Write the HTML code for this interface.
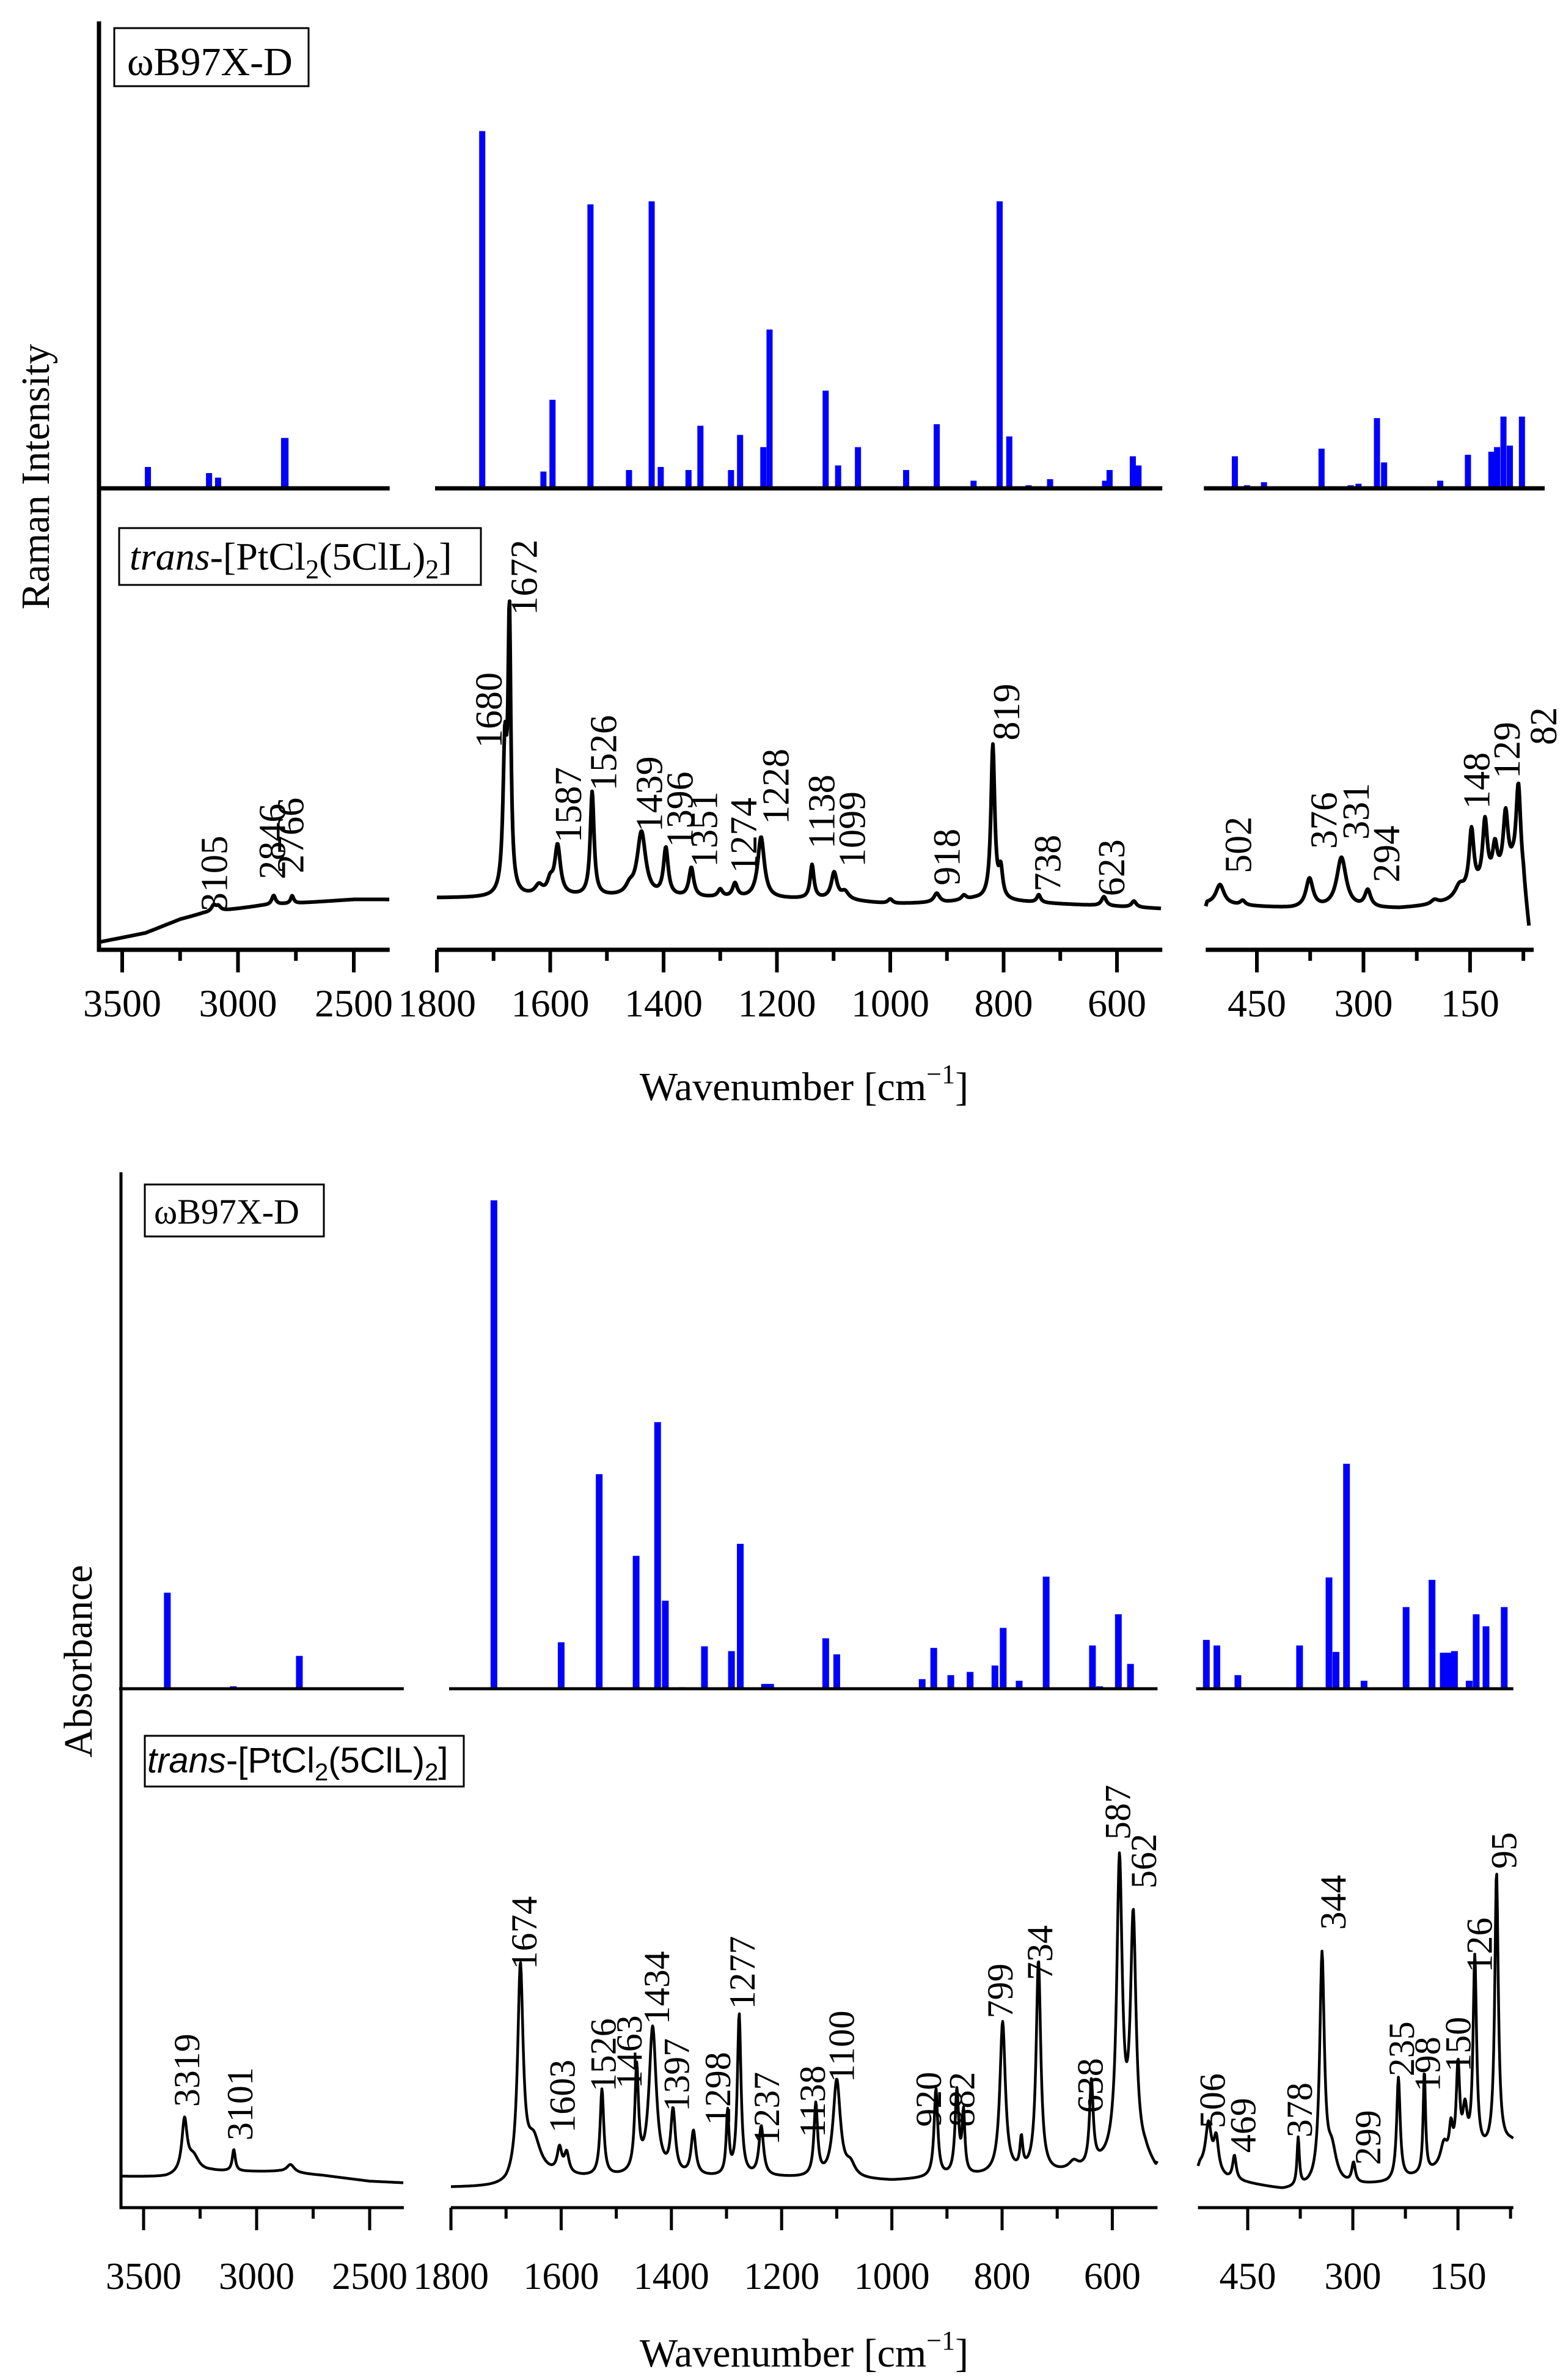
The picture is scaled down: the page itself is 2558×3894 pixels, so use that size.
<!DOCTYPE html>
<html><head><meta charset="utf-8"><style>
html,body{margin:0;padding:0;background:#fff}
svg{display:block}
text{font-family:"Liberation Serif",serif;fill:#000}
</style></head><body>
<svg id="fig" xmlns="http://www.w3.org/2000/svg" width="2558" height="3894" viewBox="0 0 2558 3894">
<rect x="0" y="0" width="2558" height="3894" fill="#fff"/>
<g id="top"></g>
<g id="bot"></g>
<rect x="187" y="46" width="318" height="95" fill="none" stroke="#000" stroke-width="3"/>
<text x="208" y="123" font-size="66">ωB97X-D</text>
<rect x="195" y="864" width="592" height="93" fill="none" stroke="#000" stroke-width="3"/>
<text x="212" y="932" font-size="64"><tspan font-style="italic">trans</tspan>-[PtCl<tspan font-size="44" dy="14">2</tspan><tspan dy="-14">(5ClL)</tspan><tspan font-size="44" dy="14">2</tspan><tspan dy="-14">]</tspan></text>
<text transform="translate(80,780) rotate(-90)" text-anchor="middle" font-size="66">Raman Intensity</text>
<text x="1316" y="1800" text-anchor="middle" font-size="66">Wavenumber [cm<tspan font-size="44" dy="-28">−1</tspan><tspan dy="28">]</tspan></text>

<rect x="237" y="1938" width="293" height="85" fill="none" stroke="#000" stroke-width="3"/>
<text x="252" y="2002" font-size="58">ωB97X-D</text>
<rect x="237" y="2840" width="522" height="83" fill="none" stroke="#000" stroke-width="3"/>
<text x="241" y="2900" font-size="58" style="font-family:'Liberation Sans',sans-serif"><tspan font-style="italic">trans</tspan>-[PtCl<tspan font-size="40" dy="13">2</tspan><tspan dy="-13">(5ClL)</tspan><tspan font-size="40" dy="13">2</tspan><tspan dy="-13">]</tspan></text>
<text transform="translate(150,2718) rotate(-90)" text-anchor="middle" font-size="66">Absorbance</text>
<text x="1316" y="3872" text-anchor="middle" font-size="66">Wavenumber [cm<tspan font-size="44" dy="-28">−1</tspan><tspan dy="28">]</tspan></text>
</svg>
<script>
// ===== TOP (Raman) data =====
const topCalcFreq = [3389,3125,3086,2801,2795, 1720,1612,1596,1529,1461,1421,1405,1356,1335,1281,1265,1224,1213,1114,1092,1057,972,918,853,807,790,756,718,621,613,572,562, 481,464,440,359,318,307,281,271,192,153,120,112,103,94,77];
const topCalcInt  = [14,10,7,33,33, 234,11,58,186,12,188,14,12,41,12,35,27,104,64,15,27,12,42,5,188,34,2,6,5,12,21,15, 21,2,4,26,2,3,46,17,5,22,24,27,47,28,47];
const topBaseW = [3600,3400,3250,3150,3050,2900,2700,2500,2340, 1800,1700,1600,1100,1000,900,850,700,520, 522,400,250,200,170,150,120,90,75,67];
const topBaseI = [5,11,20,24,26,29,31,33,31, 34,34,35,33,30,31,33,30,30, 27,27,27,29,32,36,42,50,40,10];
const topPeakPos = [3105,3085,2846,2766, 1680,1672,1620,1600,1587,1526,1460,1439,1396,1351,1300,1274,1228,1138,1099,1080,1000,918,870,819,805,738,623,570, 502,470,376,331,294,200,165,148,129,115,100,82];
const topPeakH   = [4,3,6,5, 92,178,6,8,32,68,5,42,31,19,5,9,40,22,17,5,3,6,3,101,18,5,6,4, 13,3,19,33,11,3,8,40,42,22,40,62];
const topPeakG   = [12,12,10,8, 4,3,8,6,6,4,8,9,5,5,5,5,7,4,6,8,5,6,5,4,4,4,5,5, 7,4,6,8,5,6,8,4,4,4,4,4];
const topLabels  = ["3105","2846","2766","1680","1672","1587","1526","1439","1396","1351","1274","1228","1138","1099","918","819","738","623","502","376","331","294","148","129","82"];
const topLabelCx = [140,178,190,320,343,372,395,425,445,461,487,508,538,558,620,659,686,728,811,867,888,908,967,987,1011];
const topLabelBy = [597,576,572,490,403,552,518,545,555,568,572,540,556,568,580,485,584,587,572,556,550,578,530,510,488];

// ===== BOTTOM (IR) data =====
const botCalcFreq = [3395,3103,2811, 1722,1600,1531,1464,1425,1411,1380,1340,1291,1275,1231,1220,1120,1100,1060,945,924,893,858,813,798,769,720,636,623,589,567, 509,494,464,376,334,324,309,284,224,187,171,164,155,134,124,110,84];
const botCalcInt  = [120,3,41, 610,58,268,166,333,110,2,53,47,181,6,6,63,43,1,12,51,17,21,29,76,10,140,54,3,93,31, 61,54,17,54,139,46,281,10,102,136,45,45,47,10,93,78,102];
const botBaseW = [3600,3400,3200,3000,2900,2700,2500,2349, 1800,1700,1650,1560,1200,1000,900,700,650,600,540,518, 521,480,400,300,250,200,160,130,100,75,71];
const botBaseI = [39,38,45,45,45,40,33,31, 25,25,40,37,37,33,37,42,45,55,60,50, 45,35,22,27,30,40,50,60,70,80,80];
const botPeakPos = [3319,3280,3101,2850, 1674,1650,1603,1590,1526,1463,1434,1397,1360,1298,1277,1237,1138,1100,1075,920,882,870,799,765,734,670,638,587,562, 506,495,469,378,344,330,299,235,198,170,160,150,140,126,95];
const botPeakH   = [65,20,27,10, 262,40,30,25,108,130,185,78,55,78,202,62,90,122,15,110,105,75,190,38,265,10,105,370,295, 58,42,30,60,285,40,25,128,128,28,40,115,55,245,345];
const botPeakG   = [14,30,8,20, 6,15,5,5,4,4,8,5,5,3,4,5,4,8,10,4,4,3,6,3,5,10,4,6,6, 5,4,3,2,4,8,3,3,2,6,3,3,4,3,3];
const botLabels  = ["3319","3101","1674","1603","1526","1463","1434","1397","1298","1277","1237","1138","1100","920","882","799","734","638","587","562","506","469","378","344","299","235","198","150","126","95"];
const botLabelCx = [122,157,343,368,395,412,430,443,470,486,502,532,551,608,630,655,681,714,732,749,794,814,851,873,896,918,935,955,969,985];
const botLabelBy = [1380,1402,1290,1397,1370,1368,1326,1383,1392,1316,1405,1400,1364,1393,1393,1322,1297,1384,1205,1237,1394,1410,1400,1264,1418,1360,1370,1357,1292,1224];

const NS="http://www.w3.org/2000/svg";
function mk(tag, parent){const e=document.createElementNS(NS,tag);parent.appendChild(e);return e;}
const PV=2.498;

function makeScale(x0,w0,k){return w=>x0+(w0-w)*k;}

function interpBase(w, bw, bi, lo, hi){
  const pts=[];
  for(let i=0;i<bw.length;i++){ if(bw[i]<=hi+1 && bw[i]>=lo-1) pts.push([bw[i],bi[i]]); }
  pts.sort((a,b)=>b[0]-a[0]);
  if(w>=pts[0][0]) return pts[0][1];
  for(let i=0;i<pts.length-1;i++){
    if(w<=pts[i][0] && w>=pts[i+1][0]){const t=(pts[i][0]-w)/(pts[i][0]-pts[i+1][0]);return pts[i][1]+t*(pts[i+1][1]-pts[i][1]);}
  }
  return pts[pts.length-1][1];
}

function drawChart(cfg){
  const g=document.getElementById(cfg.id);
  cfg.panels.forEach((p,pi)=>{
    const X=makeScale(p.x0,p.w0,p.k);
    const xl=X(p.hi), xr=X(p.lo);
    for(let i=0;i<cfg.calcFreq.length;i++){
      const f=cfg.calcFreq[i]; if(f>p.hi||f<p.lo) continue;
      const h=cfg.calcInt[i]*cfg.calcScale;
      const r=mk('rect',g);
      r.setAttribute('x',X(f)-cfg.barW/2); r.setAttribute('y',cfg.calcBase-h);
      r.setAttribute('width',cfg.barW); r.setAttribute('height',h); r.setAttribute('fill','#0000ff');
      
      
    }
    const bl=mk('line',g);
    bl.setAttribute('x1',xl-3);bl.setAttribute('x2',p.calcEnd||xr);bl.setAttribute('y1',cfg.calcBase);bl.setAttribute('y2',cfg.calcBase);
    bl.setAttribute('stroke','#000');bl.setAttribute('stroke-width',cfg.axW);
    
    
    let d='';
    const x1=X(p.hi), x2=X(p.sEnd);
    for(let px=x1;px<=x2;px+=1){
      const w=p.w0-(px-p.x0)/p.k;
      let I=interpBase(w,cfg.baseW,cfg.baseI,p.lo,p.hi);
      for(let j=0;j<cfg.peakPos.length;j++){
        const pp=cfg.peakPos[j]; if(pp>p.hi||pp<p.lo) continue;
        const u=(w-pp)/cfg.peakG[j]; I+=cfg.peakH[j]/(1+u*u);
      }
      const y=cfg.axisY-I*cfg.specScale;
      d+=(d?'L':'M')+px.toFixed(1)+' '+y.toFixed(1);
    }
    const path=mk('path',g);
    path.setAttribute('d',d);path.setAttribute('fill','none');path.setAttribute('stroke','#000');
    path.setAttribute('stroke-width',cfg.lineW);path.setAttribute('stroke-linejoin','round');
    
    
    const ax=mk('line',g);
    ax.setAttribute('x1',pi===0?cfg.yAxisX-cfg.axW/2:xl);ax.setAttribute('x2',p.axEnd||xr);
    ax.setAttribute('y1',cfg.axisY);ax.setAttribute('y2',cfg.axisY);
    ax.setAttribute('stroke','#000');ax.setAttribute('stroke-width',cfg.axW);
    
    
    p.major.forEach(v=>{
      const t=mk('line',g);
      t.setAttribute('x1',X(v));t.setAttribute('x2',X(v));t.setAttribute('y1',cfg.axisY);t.setAttribute('y2',cfg.axisY+cfg.majL);
      t.setAttribute('stroke','#000');t.setAttribute('stroke-width',cfg.tickW);
      
      
      const tl=mk('text',g);
      tl.setAttribute('x',X(v));tl.setAttribute('y',cfg.tickY);tl.setAttribute('text-anchor','middle');tl.setAttribute('font-size',cfg.tickFs);
      tl.textContent=String(v);
      
      
    });
    p.minor.forEach(v=>{
      const t=mk('line',g);
      t.setAttribute('x1',X(v));t.setAttribute('x2',X(v));t.setAttribute('y1',cfg.axisY);t.setAttribute('y2',cfg.axisY+cfg.minL);
      t.setAttribute('stroke','#000');t.setAttribute('stroke-width',cfg.tickW);
      
      
    });
  });
  const ya=mk('line',g);
  ya.setAttribute('x1',cfg.yAxisX);ya.setAttribute('x2',cfg.yAxisX);ya.setAttribute('y1',cfg.yTop);ya.setAttribute('y2',cfg.axisY+cfg.axW/2);
  ya.setAttribute('stroke','#000');ya.setAttribute('stroke-width',cfg.axW);
  
  
  for(let i=0;i<cfg.labels.length;i++){
    const t=mk('text',g);
    t.setAttribute('transform','translate('+(cfg.labelCx[i]*PV).toFixed(1)+','+(cfg.labelBy[i]*PV).toFixed(1)+') rotate(-90)');
    t.setAttribute('dy','0.35em');t.setAttribute('font-size',cfg.labFs);
    t.textContent=cfg.labels[i];
    
    
  }
}

drawChart({id:'top',calcFreq:topCalcFreq,calcInt:topCalcInt,calcScale:PV,calcBase:799,barW:10,
  baseW:topBaseW,baseI:topBaseI,peakPos:topPeakPos,peakH:topPeakH,peakG:topPeakG,
  labels:topLabels,labelCx:topLabelCx,labelBy:topLabelBy,
  axisY:1554,specScale:PV,lineW:6,axW:7,tickW:6,majL:37,minL:18,tickY:1663,tickFs:64,labFs:62,
  yAxisX:162,yTop:35,
  panels:[
    {x0:200,w0:3500,k:0.379,hi:3600,lo:2345,sEnd:2345,major:[3500,3000,2500],minor:[3250,2750]},
    {x0:715,w0:1800,k:0.9275,hi:1800,lo:520,sEnd:522,major:[1800,1600,1400,1200,1000,800,600],minor:[1700,1500,1300,1100,900,700]},
    {x0:2057,w0:450,k:1.163,hi:522,lo:60,sEnd:67,axEnd:2510,calcEnd:2528,major:[450,300,150],minor:[375,225,75]}
  ]});

drawChart({id:'bot',calcFreq:botCalcFreq,calcInt:botCalcInt,calcScale:1.310,calcBase:2763,barW:11,
  baseW:botBaseW,baseI:botBaseI,peakPos:botPeakPos,peakH:botPeakH,peakG:botPeakG,
  labels:botLabels,labelCx:botLabelCx,labelBy:botLabelBy,
  axisY:3612,specScale:1.310,lineW:4.5,axW:5,tickW:5,majL:37,minL:18,tickY:3745,tickFs:62,labFs:60,
  yAxisX:198,yTop:1918,
  panels:[
    {x0:235,w0:3500,k:0.37,hi:3600,lo:2349,sEnd:2349,major:[3500,3000,2500],minor:[3250,2750]},
    {x0:738,w0:1800,k:0.902,hi:1800,lo:518,sEnd:518,major:[1800,1600,1400,1200,1000,800,600],minor:[1700,1500,1300,1100,900,700]},
    {x0:2042,w0:450,k:1.147,hi:521,lo:71,sEnd:71,major:[450,300,150],minor:[375,225,75]}
  ]});
</script>
</body></html>
